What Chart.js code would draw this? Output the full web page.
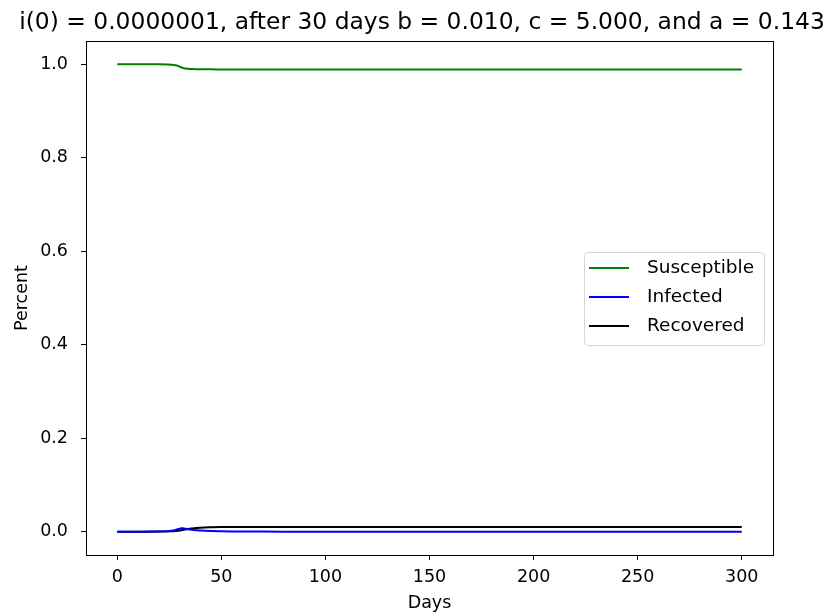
<!DOCTYPE html>
<html>
<head>
<meta charset="utf-8">
<script src="https://cdn.jsdelivr.net/npm/chart.js@4"></script>
<style>
  body { margin: 0; background: #fff; }
  #wrap { width: 838px; height: 616px; }
</style>
</head>
<body>
<div id="wrap"><canvas id="sirChart" width="838" height="616"></canvas></div>
<script>
// Days
const days = [0, 5, 10, 15, 20, 24, 26, 28, 29, 30, 31, 32, 33, 34, 35, 36, 38, 40, 45, 50, 55, 60, 70, 80, 100, 150, 200, 250, 300];

// Values
const susceptible = [1.0, 1.0, 1.0, 1.0, 1.0, 0.9998, 0.9994, 0.9982, 0.997, 0.995, 0.993, 0.9917, 0.991, 0.9905, 0.9902, 0.99, 0.9897, 0.9895, 0.9893, 0.9892, 0.9891, 0.989, 0.989, 0.989, 0.989, 0.989, 0.989, 0.989, 0.989];
const infected = [0.0, 0.0, 0.00001, 0.00005, 0.0003, 0.0011, 0.002, 0.0038, 0.005, 0.0065, 0.0075, 0.0068, 0.006, 0.0052, 0.0045, 0.0039, 0.003, 0.0022, 0.0011, 0.0006, 0.0003, 0.00015, 0.00004, 0.00001, 0, 0, 0, 0, 0];
const recovered = [0.0, 0.0, 0.0, 0.00001, 0.0001, 0.0003, 0.0006, 0.0012, 0.0017, 0.0024, 0.0033, 0.0042, 0.005, 0.0057, 0.0063, 0.0069, 0.0078, 0.0085, 0.0093, 0.0097, 0.0099, 0.01, 0.0101, 0.0101, 0.0101, 0.0101, 0.0101, 0.0101, 0.0101];

// Tick labels
const xTicks = [0, 50, 100, 150, 200, 250, 300];
const yTicks = [0.0, 0.2, 0.4, 0.6, 0.8, 1.0];

const chartTitle = "i(0) = 0.0000001, after 30 days b = 0.010, c = 5.000, and a = 0.143";

const toPoints = (vals) => vals.map((v, i) => ({ x: days[i], y: v }));

const tickFont = { family: "DejaVu Sans", size: 17.5 };

// Title, full box around the plot and the legend inside it
const boxAndLegend = {
  id: "boxAndLegend",
  afterDraw(chart) {
    const c = chart.ctx;
    const a = chart.chartArea;
    c.save();
    c.strokeStyle = "#000";
    c.lineWidth = 1;
    c.strokeRect(Math.round(a.left) + 0.5, Math.round(a.top) + 0.5, Math.round(a.right - a.left), Math.round(a.bottom - a.top));

    c.fillStyle = "#000";
    c.font = "23.4px 'DejaVu Sans'";
    c.textAlign = "center";
    c.textBaseline = "alphabetic";
    c.fillText(chartTitle, 422, 29);

    // legend box
    const lx = 584, ly = 252, lw = 180, lh = 93, r = 4;
    c.fillStyle = "rgba(255,255,255,0.8)";
    c.strokeStyle = "#d6d6d6";
    c.beginPath();
    c.roundRect(lx + 0.5, ly + 0.5, lw, lh, r);
    c.fill();
    c.stroke();

    c.font = "18.5px 'DejaVu Sans'";
    c.textAlign = "left";
    c.textBaseline = "middle";
    chart.data.datasets.forEach((ds, i) => {
      const y = 268 + i * 29;
      c.strokeStyle = ds.borderColor;
      c.lineWidth = 2;
      c.beginPath();
      c.moveTo(589, y);
      c.lineTo(629, y);
      c.stroke();
      c.fillStyle = "#000";
      c.fillText(ds.label, 647, y);
    });
    c.restore();
  },
};

const ctx = document.getElementById("sirChart").getContext("2d");

new Chart(ctx, {
  type: "line",
  data: {
    datasets: [
      { label: "Susceptible", data: toPoints(susceptible), borderColor: "#008000" },
      { label: "Infected", data: toPoints(infected), borderColor: "#0000ff" },
      { label: "Recovered", data: toPoints(recovered), borderColor: "#000000" },
    ],
  },
  options: {
    responsive: false,
    animation: false,
    elements: {
      point: { radius: 0 },
      line: { borderWidth: 2, cubicInterpolationMode: "monotone", fill: false },
    },
    layout: { padding: { left: 0, right: 65, top: 41, bottom: 0 } },
    plugins: {
      legend: { display: false },
      tooltip: { enabled: false },
      title: { display: false },
    },
    scales: {
      x: {
        type: "linear",
        min: -15,
        max: 315,
        afterBuildTicks: (s) => { s.ticks = xTicks.map((v) => ({ value: v })); },
        afterFit: (s) => { s.height = 61; },
        ticks: { color: "#000", font: tickFont, padding: 7, maxRotation: 0 },
        grid: { drawOnChartArea: false, drawTicks: true, tickLength: 5, tickColor: "#000" },
        border: { color: "#000" },
        title: { display: true, text: "Days", color: "#000", font: tickFont, padding: { top: 2, bottom: 2 } },
      },
      y: {
        min: -0.05,
        max: 1.05,
        afterBuildTicks: (s) => { s.ticks = yTicks.map((v) => ({ value: v })); },
        afterFit: (s) => { s.width = 86; },
        ticks: { color: "#000", font: tickFont, padding: 13, callback: (v) => v.toFixed(1) },
        grid: { drawOnChartArea: false, drawTicks: true, tickLength: 5, tickColor: "#000" },
        border: { color: "#000" },
        title: { display: true, text: "Percent", color: "#000", font: tickFont, padding: { top: 12, bottom: 2 } },
      },
    },
  },
  plugins: [boxAndLegend],
});
</script>
</body>
</html>
